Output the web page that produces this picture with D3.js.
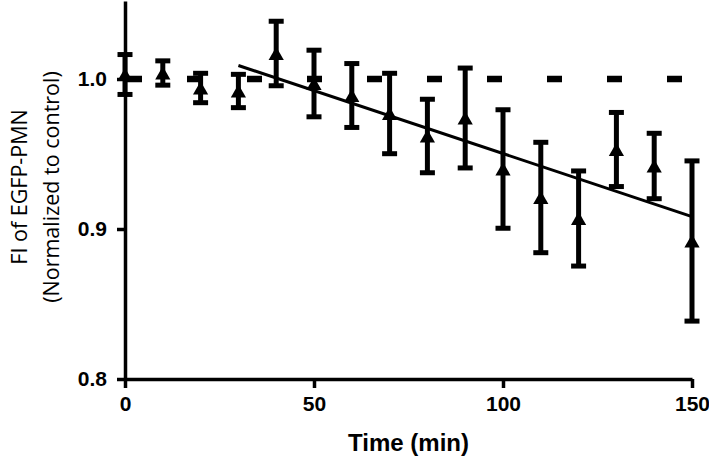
<!DOCTYPE html>
<html>
<head>
<meta charset="utf-8">
<script src="https://cdn.jsdelivr.net/npm/d3@7"></script>
<style>
  body { margin: 0; background: #fff; }
  .axis path, .axis line { stroke: #000; stroke-width: 3.5; }
  .axis text { font-family: "Liberation Sans", Arial, sans-serif; font-weight: bold; font-size: 21px; fill: #000; }
</style>
</head>
<body>
<div id="chart"></div>
<script>
// time points (min)
var times = [0, 10, 20, 30, 40, 50, 60, 70, 80, 90, 100, 110, 120, 130, 140, 150];
// FI of EGFP-PMN, normalized to control (mean)
var means = [1.003, 1.004, 0.994, 0.992, 1.017, 0.997, 0.989, 0.977, 0.962, 0.974,
             0.940, 0.921, 0.907, 0.953, 0.942, 0.892];
// error (half bar length)
var errs = [0.0133, 0.0081, 0.0098, 0.0111, 0.0215, 0.0222, 0.0213, 0.0268, 0.0245, 0.0333,
            0.0395, 0.0368, 0.0317, 0.0247, 0.0218, 0.0534];
// control level (dashed)
var controlTimes = [0, 150];
var controlValue = 1.0;
// linear fit, end points
var fitTimes = [30, 150];
var fitValues = [1.009, 0.9083];

var xTicks = [0, 50, 100, 150];
var yTicks = [0.8, 0.9, 1.0];

// set the dimensions and margins of the graph
var margin = {top: 1, right: 17, bottom: 79, left: 125},
    width = 709 - margin.left - margin.right,
    height = 458 - margin.top - margin.bottom;

var x = d3.scaleLinear().domain([0, 150]).range([0, width]);
var y = d3.scaleLinear().domain([0.8, 1.052]).range([height, 0]);

var svg = d3.select("#chart").append("svg")
    .attr("width", 709)
    .attr("height", 458)
  .append("g")
    .attr("transform", "translate(" + margin.left + "," + margin.top + ")");

// control line at 1.0
var line = d3.line().x(d => x(d[0])).y(d => y(d[1]));
svg.append("path")
    .datum(controlTimes.map(t => [t, controlValue]))
    .attr("d", line)
    .attr("fill", "none")
    .attr("stroke", "#000")
    .attr("stroke-width", 6.5)
    .attr("stroke-dasharray", "15,45")
    .attr("stroke-dashoffset", -2);

// regression line
svg.append("path")
    .datum(fitTimes.map((t, i) => [t, fitValues[i]]))
    .attr("d", line)
    .attr("fill", "none")
    .attr("stroke", "#000")
    .attr("stroke-width", 3);

// error bars
var data = times.map((t, i) => ({t: t, v: means[i], e: errs[i]}));
var bars = svg.append("g").selectAll("g").data(data).enter().append("g")
    .attr("stroke", "#000")
    .attr("stroke-width", 5);
bars.append("line")
    .attr("x1", d => x(d.t)).attr("x2", d => x(d.t))
    .attr("y1", d => y(d.v - d.e)).attr("y2", d => y(d.v + d.e));
bars.append("line")
    .attr("x1", d => x(d.t) - 7.5).attr("x2", d => x(d.t) + 7.5)
    .attr("y1", d => y(d.v + d.e)).attr("y2", d => y(d.v + d.e));
bars.append("line")
    .attr("x1", d => x(d.t) - 7.5).attr("x2", d => x(d.t) + 7.5)
    .attr("y1", d => y(d.v - d.e)).attr("y2", d => y(d.v - d.e));

// triangle markers
svg.append("g").selectAll("path").data(data).enter().append("path")
    .attr("d", d3.symbol().type(d3.symbolTriangle).size(100))
    .attr("transform", d => "translate(" + x(d.t) + "," + (y(d.v) + 2) + ")")
    .attr("fill", "#000");

// axes
svg.append("g")
    .attr("class", "axis")
    .attr("transform", "translate(0," + height + ")")
    .call(d3.axisBottom(x).tickValues(xTicks).tickSize(9).tickSizeOuter(0).tickPadding(8));

svg.append("g")
    .attr("class", "axis")
    .call(d3.axisLeft(y).tickValues(yTicks).tickFormat(d3.format(".1f"))
          .tickSize(8).tickSizeOuter(0).tickPadding(10));

// axis titles
svg.append("text")
    .attr("x", width / 2)
    .attr("y", 451 - margin.top)
    .attr("text-anchor", "middle")
    .style("font-family", "'Liberation Sans', Arial, sans-serif")
    .style("font-weight", "bold")
    .style("font-size", "24px")
    .text("Time (min)");

var ylab = svg.append("text")
    .attr("transform", "rotate(-90)")
    .attr("text-anchor", "middle")
    .style("font-family", "'Open Sans', sans-serif")
    .style("font-size", "21.5px");
ylab.append("tspan")
    .attr("x", -(187 - margin.top)).attr("y", 27 - margin.left)
    .text("FI of EGFP-PMN");
ylab.append("tspan")
    .attr("x", -(187 - margin.top)).attr("y", 59 - margin.left)
    .text("(Normalized to control)");
</script>
</body>
</html>
